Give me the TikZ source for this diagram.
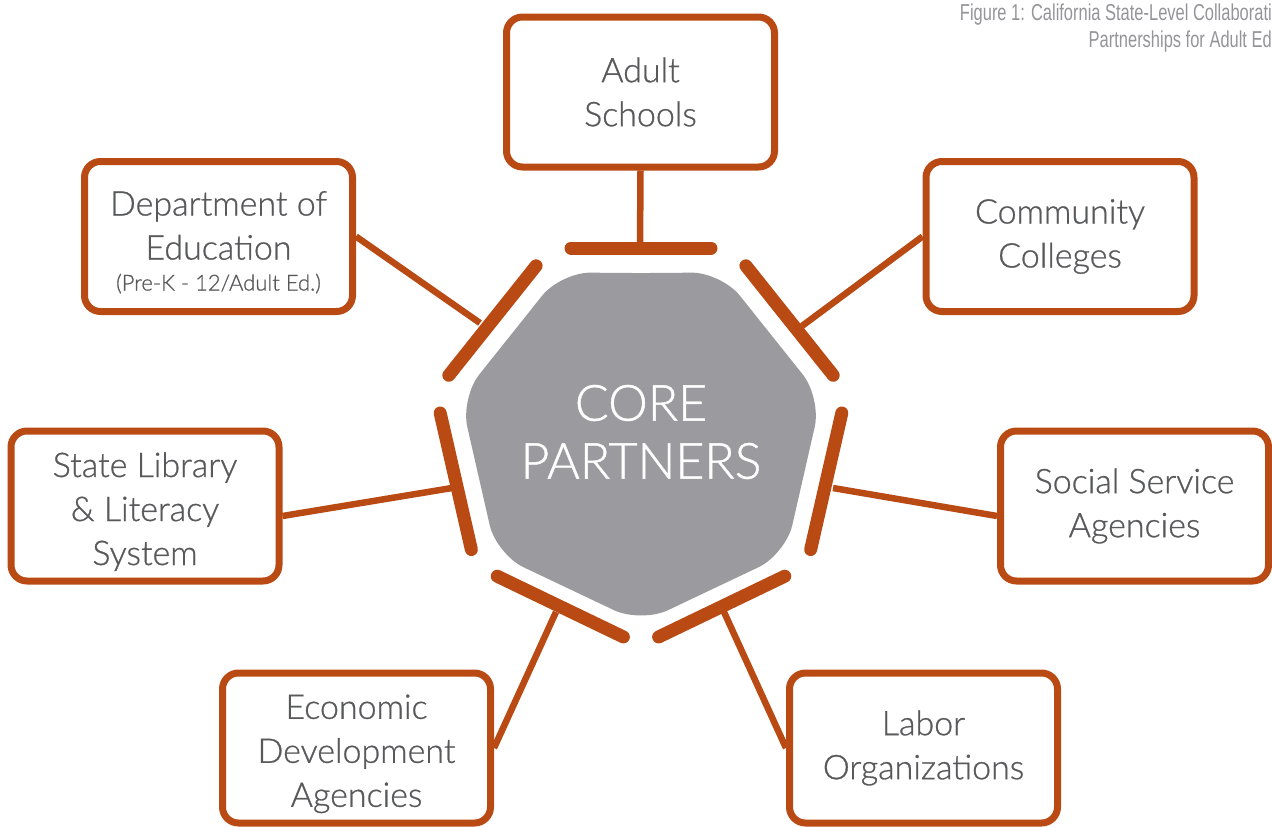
\documentclass[tikz,border=0pt]{standalone}
\usepackage{fontspec}
\setmainfont{Lato Light}[RawFeature={embolden=0.8}]
\newfontfamily\capfont{Liberation Sans}
\usetikzlibrary{calc}
\definecolor{orng}{RGB}{186,74,20}
\definecolor{coregray}{RGB}{155,154,159}
\definecolor{txtgray}{RGB}{88,89,91}
\definecolor{capgray}{RGB}{148,148,153}
\newcommand{\topstrut}{\rule{0pt}{36pt}}
\begin{document}
\begin{tikzpicture}[x=1pt,y=-1pt,
  box/.style={draw=orng, line width=7pt, rounded corners=16pt, fill=white,
    minimum width=268pt, minimum height=150pt, align=center, text=txtgray,
    font=\fontsize{34}{44}\selectfont, inner sep=0pt},
  link/.style={draw=orng, line width=6.5pt},
  bar/.style={draw=orng, line width=13pt, line cap=round},
  captext/.style={anchor=base east, text=capgray, inner sep=0pt,
    font=\capfont\fontsize{23}{26}\selectfont}]
\useasboundingbox (0,0) rectangle (1272,827);

% caption
\node[captext] (cap1) at (1272,20) {\scalebox{0.716}[1]{Figure 1: California State-Level Collaborati}};
\node[captext] (cap2) at (1272,47) {\scalebox{0.716}[1]{Partnerships for Adult Ed}};

% core heptagon
\coordinate (c) at (641,439);
\fill[coregray, rounded corners=30pt]
  ($(c)+(270:165.8)$) -- ($(c)+(295.71:185)$) -- ($(c)+(347.14:185)$)
  -- ($(c)+(38.57:185)$) -- ($(c)+(90:184)$) -- ($(c)+(141.43:185)$)
  -- ($(c)+(192.86:185)$) -- ($(c)+(244.29:185)$) -- cycle;
\node[text=white, align=center, font=\fontsize{50}{58}\selectfont, inner sep=0pt] (core) at (641,432) {CORE\\PARTNERS};

% bars
\foreach \a/\d in {270/191, 321.43/190, 12.86/190, 64.29/186, 115.71/186, 167.14/190, 218.57/190}{
  \draw[bar] ($(c)+(\a:\d)+(\a+90:70)$) -- ($(c)+(\a:\d)+(\a-90:70)$);
}

% attach points on bars
\coordinate (a1) at (640,248);
\coordinate (a2) at (480,323);
\coordinate (a3) at (802,326);
\coordinate (a4) at (452,488);
\coordinate (a5) at (833,488);
\coordinate (a6) at (556,612);
\coordinate (a7) at (724,612);

% boxes
\node[box] (adult) at (640.5,92) {Adult\\Schools};
\node[box] (doe) at (218.5,236.5) {\topstrut Department of\\Education\\[-13pt]{\fontsize{22}{26}\selectfont(Pre-K - 12/Adult Ed.)}};
\node[box] (cc) at (1060,236.5) {Community\\Colleges};
\node[box] (sl) at (145,506) {\topstrut State Library\\\& Literacy\\System};
\node[box] (ss) at (1134.5,506) {Social Service\\Agencies};
\node[box] (eco) at (356.5,748) {\topstrut Economic\\Development\\Agencies};
\node[box] (lab) at (923.5,748) {Labor\\Organizations};

% connectors
\draw[link] (adult.south) -- (a1);
\draw[link] (doe.east) -- (a2);
\draw[link] (cc.west) -- (a3);
\draw[link] ([yshift=-10pt]sl.east) -- (a4);
\draw[link] ([yshift=-10pt]ss.west) -- (a5);
\draw[link] (eco.east) -- (a6);
\draw[link] (lab.west) -- (a7);
\end{tikzpicture}
\end{document}
